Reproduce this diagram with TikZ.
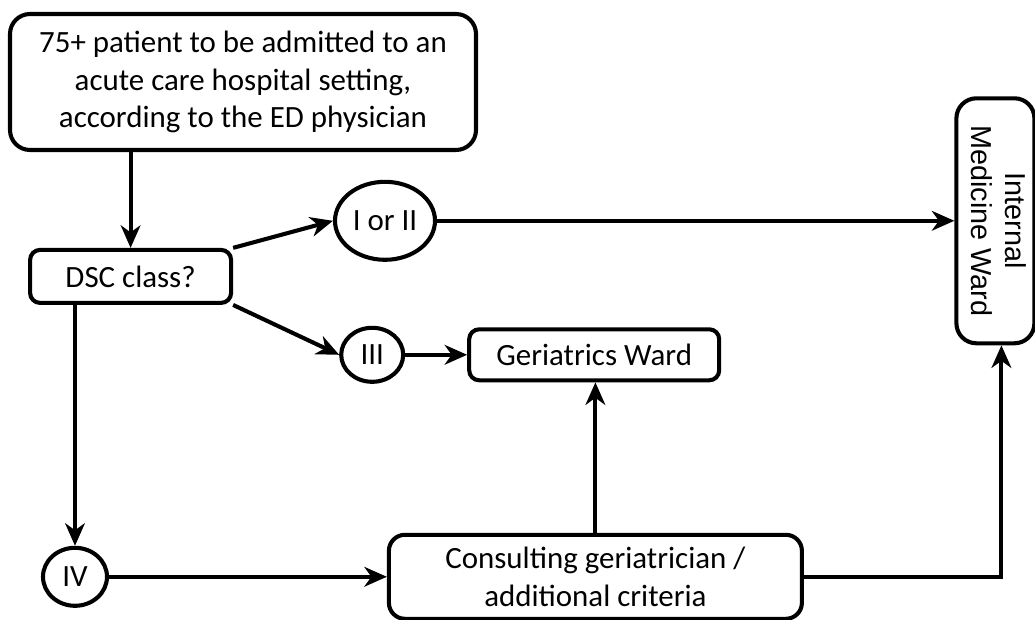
\documentclass[tikz,border=0pt]{standalone}
\usepackage{fontspec}
\setmainfont{Carlito}
\newfontfamily\arialfont{Liberation Sans}
\usepackage{graphicx}
\usepackage{tikz}
\usetikzlibrary{arrows.meta,shapes.geometric,positioning}
\tikzstyle{block} = [rectangle, draw, line width=2.9pt, text centered, rounded corners=0.25cm, inner sep=0pt]
\tikzstyle{class} = [ellipse, draw, line width=2.9pt, inner sep=0pt]
\tikzstyle{line} = [draw, line width=2.9pt, -{Stealth[length=16pt,width=14pt,inset=5pt]}]

\begin{document}
\begin{tikzpicture}[align=center,node distance=4cm,font=\fontsize{22}{26.5}\selectfont]
    \useasboundingbox (-6.075,2.05) rectangle (19.8,-13.425);
    % Place nodes
    \node [block, rounded corners=0.5cm, minimum width=11.65cm, minimum height=3.4cm] (admit) {75+ patient to be admitted to an\\ acute care hospital setting,\\ according to the ED physician};
    \node [block, minimum width=5.025cm, minimum height=1.325cm, below of=admit, xshift=-2.81cm, yshift=-0.86cm] (dsc) {DSC class?};
    \node [class, minimum width=2.5cm, minimum height=1.95cm, right of=dsc, xshift=2.36cm, yshift=1.39cm] (oneTwo) {I or II};
    \node [block, rounded corners=0.5cm, minimum width=1.95cm, minimum height=6.125cm, right of=oneTwo, xshift=11.26cm] (imw) {\rotatebox{-90}{\arialfont\fontsize{20.5}{24}\selectfont\begin{tabular}{@{}c@{}}Internal\\ Medicine Ward\end{tabular}}};
    \node [class, minimum width=1.55cm, minimum height=1.35cm, right of=dsc, xshift=2.04cm, yshift=-1.96cm] (three) {III};
    \node [block, minimum width=6.25cm, minimum height=1.275cm, right of=three, xshift=1.55cm] (geri) {Geriatrics Ward};
    \node [class, minimum width=1.6cm, minimum height=1.45cm, below of=dsc, xshift=-1.39cm, yshift=-3.51cm] (four) {IV};
    \node [block, rounded corners=0.4cm, minimum width=10.325cm, minimum height=2.1cm, right of=four, xshift=9.01cm] (consult) {Consulting geriatrician /\\ additional criteria};
    % Draw edges
    \path [line] (dsc |- admit.south) -- (dsc.north);
    \path [line] (dsc.north east) -- (oneTwo.west);
    \path [line] (oneTwo.east) -- (imw.west |- oneTwo);
    \path [line] (dsc.south east) -- (three.west);
    \path [line] (three) -- (geri);
    \path [line] (four |- dsc.south) -- (four.north);
    \path [line] (four.east) -- (four.east -| consult.west);
    \path [line] (consult.north) -- (consult.north |- geri.south);
    \path [line] (consult.east) -| ([xshift=0.15cm]imw.south);
\end{tikzpicture}
\end{document}
